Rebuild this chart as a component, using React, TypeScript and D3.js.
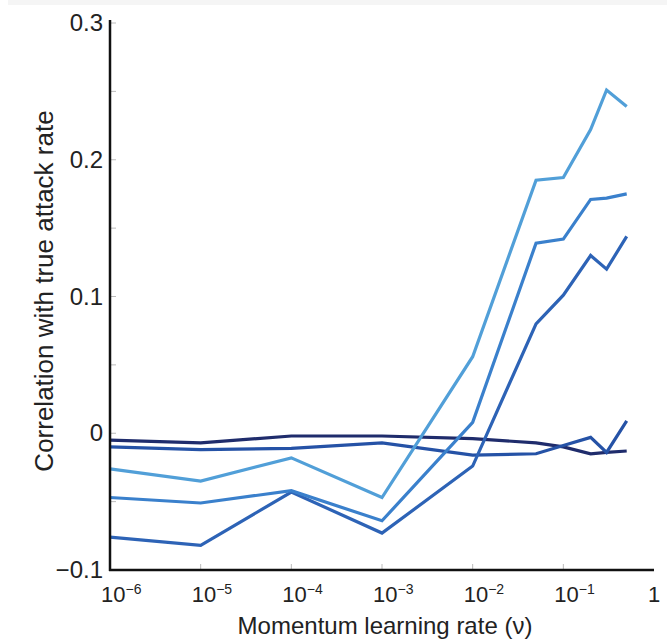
import React, { useEffect, useRef } from "react";
import * as d3 from "d3";

// momentum learning rate values (x)
const rates = [1e-6, 1e-5, 1e-4, 1e-3, 1e-2, 0.05, 0.1, 0.2, 0.3, 0.5];

// correlation with true attack rate, one array per curve
const seriesA = [-0.026, -0.035, -0.018, -0.047, 0.056, 0.185, 0.187, 0.222, 0.251, 0.239];
const seriesB = [-0.047, -0.051, -0.042, -0.064, 0.008, 0.139, 0.142, 0.171, 0.172, 0.175];
const seriesC = [-0.076, -0.082, -0.043, -0.073, -0.024, 0.08, 0.101, 0.13, 0.12, 0.144];
const seriesD = [-0.01, -0.012, -0.011, -0.007, -0.016, -0.015, -0.009, -0.003, -0.014, 0.009];
const seriesE = [-0.005, -0.007, -0.002, -0.002, -0.004, -0.007, -0.01, -0.015, -0.014, -0.013];

const allSeries = [seriesE, seriesD, seriesC, seriesB, seriesA];
const seriesColors = ["#1f2c6c", "#2552a6", "#2d63b6", "#3a80cc", "#519fd8"];

const yTicks = [-0.1, 0, 0.1, 0.2, 0.3];
const yTickLabels = ["\u22120.1", "0", "0.1", "0.2", "0.3"];
const yMinorTicks = [-0.05, 0.05, 0.15, 0.25];
const xTicks = [1e-6, 1e-5, 1e-4, 1e-3, 1e-2, 1e-1, 1];
const xExponents = ["\u22126", "\u22125", "\u22124", "\u22123", "\u22122", "\u22121", ""];

function App() {
    const chartRef = useRef(null);

    useEffect(() => {
        const width = 667;
        const height = 643;
        const margin = { top: 23, right: 13, bottom: 73, left: 110 };
        const font = "Liberation Sans, Arial, sans-serif";

        const svg = d3
            .select(chartRef.current)
            .append("svg")
            .attr("width", width)
            .attr("height", height)
            .style("position", "absolute")
            .style("left", 0)
            .style("top", 0)
            .style("background", "#fff");

        // faint band at the very top of the screenshot
        svg.append("rect")
            .attr("x", 8)
            .attr("y", 0)
            .attr("width", width - 8)
            .attr("height", 5)
            .attr("fill", "#f5f5f5");

        const xScale = d3
            .scaleLog()
            .domain([1e-6, 1])
            .range([margin.left, width - margin.right]);

        const yScale = d3
            .scaleLinear()
            .domain([-0.1, 0.3])
            .range([height - margin.bottom, margin.top]);

        // lines
        const line = d3
            .line()
            .x((d, i) => xScale(rates[i]))
            .y((d) => yScale(d));

        svg.append("g")
            .selectAll("path")
            .data(allSeries)
            .join("path")
            .attr("d", (d) => line(d))
            .attr("fill", "none")
            .attr("stroke", (d, i) => seriesColors[i])
            .attr("stroke-width", 3.2)
            .attr("stroke-linejoin", "miter");

        // y ticks (inward)
        svg.append("g")
            .selectAll("line")
            .data(yTicks.concat(yMinorTicks))
            .join("line")
            .attr("x1", margin.left)
            .attr("x2", margin.left + 6)
            .attr("y1", (d) => yScale(d))
            .attr("y2", (d) => yScale(d))
            .attr("stroke", "#bbb")
            .attr("stroke-width", 1);

        // x ticks (inward)
        svg.append("g")
            .selectAll("line")
            .data(xTicks.slice(1, -1))
            .join("line")
            .attr("x1", (d) => xScale(d))
            .attr("x2", (d) => xScale(d))
            .attr("y1", yScale(-0.1))
            .attr("y2", yScale(-0.1) - 6)
            .attr("stroke", "#bbb")
            .attr("stroke-width", 1);

        // axis lines
        svg.append("line")
            .attr("x1", margin.left)
            .attr("x2", margin.left)
            .attr("y1", margin.top - 3)
            .attr("y2", yScale(-0.1) + 1)
            .attr("stroke", "#111")
            .attr("stroke-width", 2.5);

        svg.append("line")
            .attr("x1", margin.left - 1)
            .attr("x2", width - margin.right)
            .attr("y1", yScale(-0.1))
            .attr("y2", yScale(-0.1))
            .attr("stroke", "#111")
            .attr("stroke-width", 2.5);

        // y tick labels
        svg.append("g")
            .selectAll("text")
            .data(yTicks)
            .join("text")
            .attr("x", margin.left - 7)
            .attr("y", (d) => yScale(d) + 8)
            .attr("text-anchor", "end")
            .attr("font-family", font)
            .attr("font-size", 24)
            .attr("fill", "#222")
            .text((d, i) => yTickLabels[i]);

        // x tick labels with superscripts
        const xLabels = svg
            .append("g")
            .selectAll("text")
            .data(xTicks)
            .join("text")
            .attr("x", (d, i) => (i === xTicks.length - 1 ? xScale(d) : xScale(d) - 9))
            .attr("y", yScale(-0.1) + 32)
            .attr("text-anchor", (d, i) => (i === xTicks.length - 1 ? "middle" : "start"))
            .attr("font-family", font)
            .attr("font-size", 22)
            .attr("fill", "#222");

        xLabels.each(function (d, i) {
            const t = d3.select(this);
            if (xExponents[i] === "") {
                t.text("1");
                return;
            }
            t.append("tspan").text("10");
            t.append("tspan")
                .attr("dy", -8)
                .attr("font-size", 14)
                .text(xExponents[i]);
        });

        // axis titles
        svg.append("text")
            .attr("x", 385)
            .attr("y", 634)
            .attr("text-anchor", "middle")
            .attr("font-family", font)
            .attr("font-size", 24)
            .attr("fill", "#222")
            .text("Momentum learning rate (\u03bd)");

        svg.append("text")
            .attr("transform", "translate(53," + 291 + ") rotate(-90)")
            .attr("text-anchor", "middle")
            .attr("font-family", font)
            .attr("font-size", 26)
            .attr("fill", "#222")
            .text("Correlation with true attack rate");

        return () => svg.remove();
    }, []);

    return <div ref={chartRef}></div>;
}

export default App;
